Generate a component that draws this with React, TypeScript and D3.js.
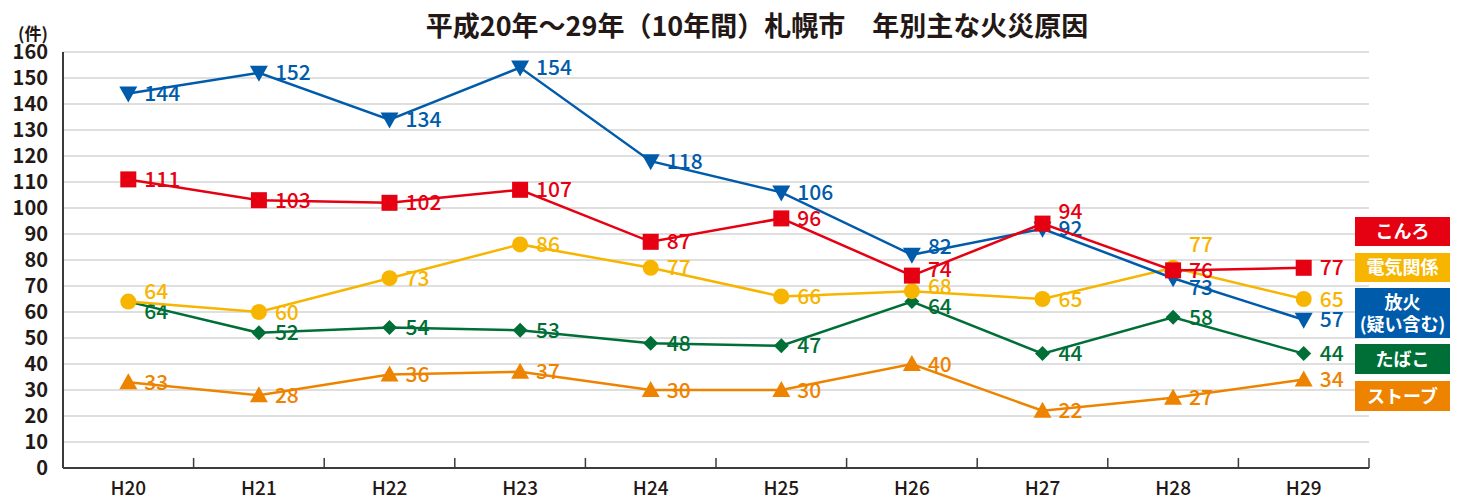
import React from "react";
import * as d3 from "d3";

const categories = ["H20", "H21", "H22", "H23", "H24", "H25", "H26", "H27", "H28", "H29"];
const yTicks = [0, 10, 20, 30, 40, 50, 60, 70, 80, 90, 100, 110, 120, 130, 140, 150, 160];

const konro = [111, 103, 102, 107, 87, 96, 74, 94, 76, 77];
const denki = [64, 60, 73, 86, 77, 66, 68, 65, 77, 65];
const houka = [144, 152, 134, 154, 118, 106, 82, 92, 73, 57];
const tabako = [64, 52, 54, 53, 48, 47, 64, 44, 58, 44];
const stove = [33, 28, 36, 37, 30, 30, 40, 22, 27, 34];

// label vertical offsets (px) per point
const konroDy = [0, 0, 0, 0, 0, 0, -6, -12, 0, 0];
const denkiDy = [-10, 0, 0, 0, 0, 0, -5, 0, -23, 0];
const houkaDy = [0, 0, 0, 0, 0, 0, -8, 0, 9, 0];
const tabakoDy = [10, 0, 0, 0, 0, 0, 5, 0, 0, 0];
const stoveDy = [0, 0, 0, 0, 0, 0, 0, 0, 0, 0];

type Series = { name: string[]; values: number[]; dy: number[]; color: string; shape: string };

const series: Series[] = [
  { name: ["ストーブ"], values: stove, dy: stoveDy, color: "#ee8300", shape: "triUp" },
  { name: ["たばこ"], values: tabako, dy: tabakoDy, color: "#006f37", shape: "diamond" },
  { name: ["電気関係"], values: denki, dy: denkiDy, color: "#f7b500", shape: "circle" },
  { name: ["放火", "(疑い含む)"], values: houka, dy: houkaDy, color: "#005bab", shape: "triDown" },
  { name: ["こんろ"], values: konro, dy: konroDy, color: "#e50012", shape: "square" },
];

const legend = [
  { name: ["こんろ"], color: "#e50012", y0: 217, y1: 246 },
  { name: ["電気関係"], color: "#f7b500", y0: 253, y1: 282 },
  { name: ["放火", "(疑い含む)"], color: "#005bab", y0: 288, y1: 338 },
  { name: ["たばこ"], color: "#006f37", y0: 344, y1: 374 },
  { name: ["ストーブ"], color: "#ee8300", y0: 381, y1: 411 },
];

const FONT = "'Noto Sans CJK JP', 'Noto Sans', sans-serif";

function Marker({ shape, x, y, color }: { shape: string; x: number; y: number; color: string }) {
  if (shape === "square") return <rect x={x - 8} y={y - 8} width={16} height={16} fill={color} />;
  if (shape === "circle") return <circle cx={x} cy={y} r={8} fill={color} />;
  if (shape === "diamond")
    return <path d={`M${x},${y - 7.5}L${x + 7.5},${y}L${x},${y + 7.5}L${x - 7.5},${y}Z`} fill={color} />;
  if (shape === "triUp")
    return <path d={`M${x},${y - 9}L${x + 9},${y + 7}L${x - 9},${y + 7}Z`} fill={color} />;
  return <path d={`M${x},${y + 9}L${x + 9},${y - 7}L${x - 9},${y - 7}Z`} fill={color} />;
}

export default function App() {
  const W = 1461, H = 500;
  const left = 63, right = 1369, top = 52, bottom = 468;
  const x = d3.scaleBand<string>().domain(categories).range([left, right]);
  const y = d3.scaleLinear().domain([0, 160]).range([bottom, top]);
  const cx = (c: string) => (x(c) as number) + x.bandwidth() / 2;
  const line = d3
    .line<number>()
    .x((_, i) => cx(categories[i]))
    .y((v) => y(v));

  return (
    <svg width={W} height={H} style={{ display: "block", position: "absolute", left: 0, top: 0 }} fontFamily={FONT}>
      <rect width={W} height={H} fill="#fff" />
      <text x={757} y={36} textAnchor="middle" fontSize={27} fontWeight={700} fill="#231815">
        平成20年～29年（10年間）札幌市　年別主な火災原因
      </text>
      <text x={33} y={40} textAnchor="middle" fontSize={17} fontWeight={700} fill="#231815">
        (件)
      </text>
      {yTicks.map((t) => (
        <g key={t}>
          {t > 0 && <line x1={left} x2={right} y1={y(t)} y2={y(t)} stroke="#d4d4d4" strokeWidth={1.5} />}
          <text x={48} y={y(t) + 7} textAnchor="end" fontSize={20} fontWeight={600} fill="#231815">
            {t}
          </text>
        </g>
      ))}
      <line x1={left} x2={left} y1={top} y2={bottom} stroke="#3e3a39" strokeWidth={2} />
      <line x1={left} x2={right} y1={bottom} y2={bottom} stroke="#3e3a39" strokeWidth={2} />
      {categories.slice(1).map((c) => (
        <line key={c} x1={x(c)} x2={x(c)} y1={bottom} y2={bottom - 10} stroke="#3e3a39" strokeWidth={1.5} />
      ))}
      <line x1={right} x2={right} y1={bottom} y2={bottom - 10} stroke="#3e3a39" strokeWidth={1.5} />
      {categories.map((c) => (
        <text key={c} x={cx(c)} y={495} textAnchor="middle" fontSize={19} fontWeight={500} fill="#231815">
          {c}
        </text>
      ))}
      {series.map((s) => (
        <g key={s.name.join("")}>
          <path d={line(s.values) || ""} fill="none" stroke={s.color} strokeWidth={2.5} />
          {s.values.map((v, i) => (
            <Marker key={i} shape={s.shape} x={cx(categories[i])} y={y(v)} color={s.color} />
          ))}
          {s.values.map((v, i) => (
            <text
              key={"t" + i}
              x={cx(categories[i]) + 16}
              y={y(v) + s.dy[i] + 7.5}
              fontSize={21}
              fontWeight={500}
              fill={s.color}
            >
              {v}
            </text>
          ))}
        </g>
      ))}
      {legend.map((l) => (
        <g key={l.name.join("")}>
          <rect x={1355} y={l.y0} width={95} height={l.y1 - l.y0} fill={l.color} />
          {l.name.length === 1 ? (
            <text x={1402.5} y={(l.y0 + l.y1) / 2 + 6.5} textAnchor="middle" fontSize={18} fontWeight={700} fill="#fff">
              {l.name[0]}
            </text>
          ) : (
            <>
              <text x={1402.5} y={l.y0 + 21} textAnchor="middle" fontSize={18} fontWeight={700} fill="#fff">
                {l.name[0]}
              </text>
              <text x={1402.5} y={l.y0 + 43} textAnchor="middle" fontSize={18} fontWeight={700} fill="#fff">
                {l.name[1]}
              </text>
            </>
          )}
        </g>
      ))}
    </svg>
  );
}
